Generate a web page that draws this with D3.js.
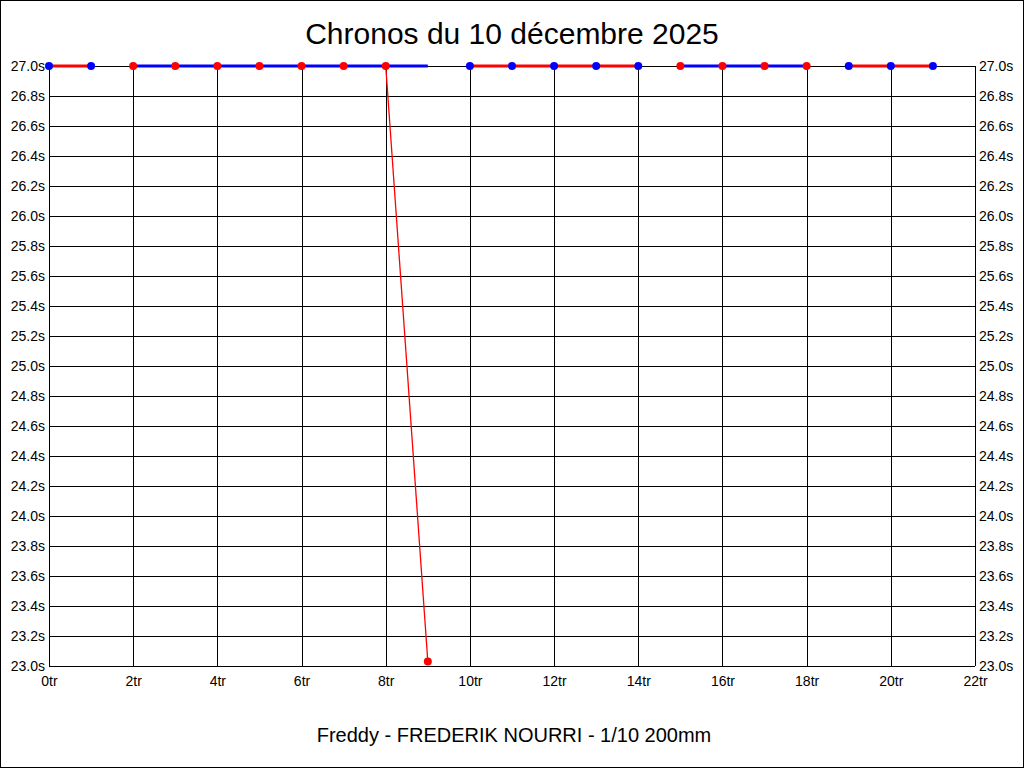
<!DOCTYPE html>
<html>
<head>
<meta charset="utf-8">
<script src="https://cdn.jsdelivr.net/npm/d3@7"></script>
<style>
  body { margin: 0; background: #fff; }
  svg { display: block; font-family: "Liberation Sans", Arial, sans-serif; }
</style>
</head>
<body>
<svg width="1024" height="768"></svg>
<script>
// DATA
var laps = [0, 1, 2, 3, 4, 5, 6, 7, 8, 9, 10, 11, 12, 13, 14, 15, 16, 17, 18, 19, 20, 21];
// times above the top of the scale are shown on the 27.0s line
var chronos = [27.0, 27.0, 27.0, 27.0, 27.0, 27.0, 27.0, 27.0, 27.0, 23.03, 27.0,
    27.0, 27.0, 27.0, 27.0, 27.0, 27.0, 27.0, 27.0, 27.0, 27.0, 27.0];
var markerColors = ["blue", "blue", "red", "red", "red", "red", "red", "red", "red", "red", "blue",
    "blue", "blue", "blue", "blue", "red", "red", "red", "red", "blue", "blue", "blue"];

// runs drawn along the top of the chart
var runStart = [0, 2, 10, 15, 19];
var runEnd = [1, 9, 14, 18, 21];
var runColors = ["red", "blue", "red", "blue", "red"];

// thin line of the one lap that went under the top
var dropLaps = [8, 9];

var xTicks = [0, 2, 4, 6, 8, 10, 12, 14, 16, 18, 20, 22];
var yTicks = [23.0, 23.2, 23.4, 23.6, 23.8, 24.0, 24.2, 24.4, 24.6, 24.8, 25.0,
    25.2, 25.4, 25.6, 25.8, 26.0, 26.2, 26.4, 26.6, 26.8, 27.0];

var title = "Chronos du 10 décembre 2025";
var footer = "Freddy - FREDERIK NOURRI - 1/10 200mm";

// CHART
var svg = d3.select("svg");

svg.append("rect")
    .attr("x", 0.5).attr("y", 0.5)
    .attr("width", 1023).attr("height", 767)
    .attr("fill", "#fff").attr("stroke", "#000");

var x = d3.scaleLinear().domain([0, 22]).range([49, 975]),
    y = d3.scaleLinear().domain([23, 27]).range([666, 66]);

var topChrono = y.domain()[1];

svg.append("text")
    .attr("x", 512).attr("y", 44)
    .attr("text-anchor", "middle")
    .attr("font-size", "30px")
    .text(title);

svg.append("text")
    .attr("x", 514).attr("y", 742)
    .attr("text-anchor", "middle")
    .attr("font-size", "20px")
    .text(footer);

// grid
var grid = svg.append("g").attr("shape-rendering", "crispEdges");

grid.selectAll(".hgrid")
    .data(yTicks)
    .enter().append("line")
    .attr("x1", x(0)).attr("x2", x(22))
    .attr("y1", function (d) { return Math.round(y(d)) + 0.5; })
    .attr("y2", function (d) { return Math.round(y(d)) + 0.5; })
    .attr("stroke", "#000");

grid.selectAll(".vgrid")
    .data(xTicks)
    .enter().append("line")
    .attr("y1", y(23)).attr("y2", y(27))
    .attr("x1", function (d) { return Math.round(x(d)) + 0.5; })
    .attr("x2", function (d) { return Math.round(x(d)) + 0.5; })
    .attr("stroke", "#000");

// axes (labels only)
var fmtY = function (d) { return d3.format(".1f")(d) + "s"; };

var left = svg.append("g")
    .attr("transform", "translate(" + x(0) + ",0)")
    .call(d3.axisLeft(y).tickValues(yTicks).tickSize(0).tickPadding(4).tickFormat(fmtY));

var right = svg.append("g")
    .attr("transform", "translate(" + x(22) + ",0)")
    .call(d3.axisRight(y).tickValues(yTicks).tickSize(0).tickPadding(4).tickFormat(fmtY));

var bottom = svg.append("g")
    .attr("transform", "translate(0," + y(23) + ")")
    .call(d3.axisBottom(x).tickValues(xTicks).tickSize(0).tickPadding(10)
        .tickFormat(function (d) { return d + "tr"; }));

[left, right, bottom].forEach(function (a) {
    a.select(".domain").remove();
    a.selectAll("text")
        .attr("fill", "#000")
        .attr("font-size", "14px")
        .attr("font-family", "'Liberation Sans', Arial, sans-serif");
});

// thick runs on the top line
svg.selectAll(".run")
    .data(runStart)
    .enter().append("line")
    .attr("class", "run")
    .attr("x1", function (d) { return x(d); })
    .attr("x2", function (d, i) { return x(runEnd[i]); })
    .attr("y1", y(topChrono)).attr("y2", y(topChrono))
    .attr("stroke", function (d, i) { return runColors[i]; })
    .attr("stroke-width", 3);

// drop line
var line = d3.line()
    .x(function (d) { return x(d); })
    .y(function (d) { return y(chronos[d]); });

svg.append("path")
    .datum(dropLaps)
    .attr("d", line)
    .attr("fill", "none")
    .attr("stroke", "red")
    .attr("stroke-width", 1.3);

// markers
svg.selectAll(".dot")
    .data(laps)
    .enter().append("circle")
    .attr("class", "dot")
    .attr("cx", function (d) { return x(d); })
    .attr("cy", function (d, i) { return y(chronos[i]); })
    .attr("r", 4)
    .attr("fill", function (d, i) { return markerColors[i]; });
</script>
</body>
</html>
